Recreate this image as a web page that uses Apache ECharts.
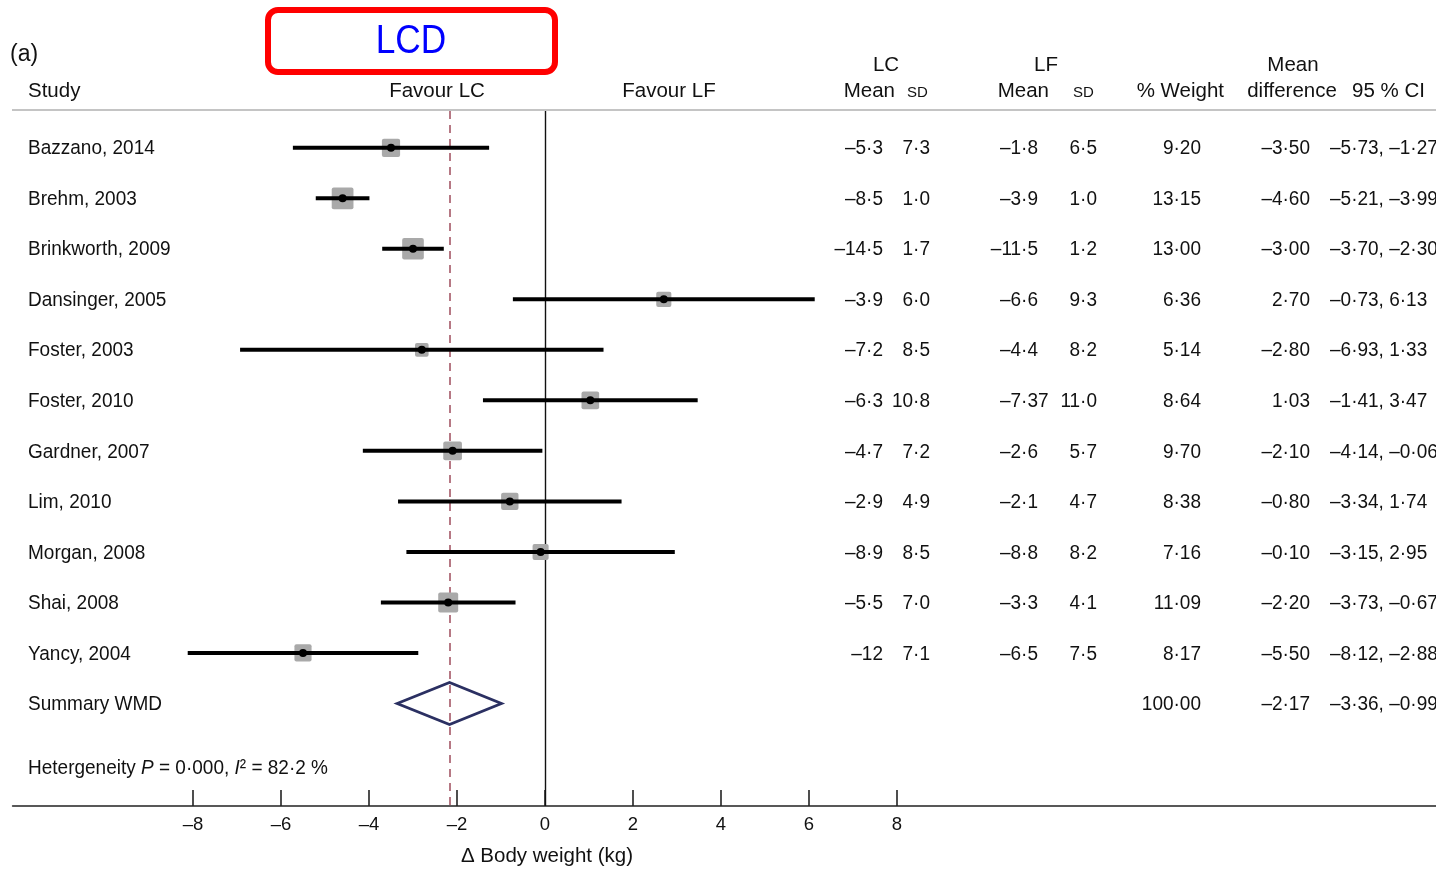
<!DOCTYPE html>
<html><head><meta charset="utf-8">
<script src="https://cdn.jsdelivr.net/npm/echarts@6/dist/echarts.min.js"></script>
<style>html,body{margin:0;padding:0;background:#fff}#c{width:1436px;height:872px}</style>
</head><body><div id="c"></div>
<script>
// ---- data ----
const studies = ['Bazzano, 2014','Brehm, 2003','Brinkworth, 2009','Dansinger, 2005','Foster, 2003','Foster, 2010','Gardner, 2007','Lim, 2010','Morgan, 2008','Shai, 2008','Yancy, 2004'];
const lcMean = ['–5·3','–8·5','–14·5','–3·9','–7·2','–6·3','–4·7','–2·9','–8·9','–5·5','–12'];
const lcSD   = ['7·3','1·0','1·7','6·0','8·5','10·8','7·2','4·9','8·5','7·0','7·1'];
const lfMean = ['–1·8','–3·9','–11·5','–6·6','–4·4','–7·37','–2·6','–2·1','–8·8','–3·3','–6·5'];
const lfSD   = ['6·5','1·0','1·2','9·3','8·2','11·0','5·7','4·7','8·2','4·1','7·5'];
const weight = [9.20,13.15,13.00,6.36,5.14,8.64,9.70,8.38,7.16,11.09,8.17];
const meanDiff = [-3.50,-4.60,-3.00,2.70,-2.80,1.03,-2.10,-0.80,-0.10,-2.20,-5.50];
const ciLow  = [-5.73,-5.21,-3.70,-0.73,-6.93,-1.41,-4.14,-3.34,-3.15,-3.73,-8.12];
const ciHigh = [-1.27,-3.99,-2.30,6.13,1.33,3.47,-0.06,1.74,2.95,-0.67,-2.88];
const summaryLabel = 'Summary WMD';
const summaryWeight = 100.00;
const summaryMD = -2.17;
const summaryLow = -3.36;
const summaryHigh = -0.99;
const hetP = '0·000';
const hetI2 = '82·2';
const xTicks = [-8,-6,-4,-2,0,2,4,6,8];

// ---- helpers ----
const FF = '"Liberation Sans", Arial, Helvetica, sans-serif';
const BODY = 20.5;     // font size of table body text
const SX = 0.927;      // horizontal squeeze of body text
function fmt(v, d) {
  return (v < 0 ? '–' : '') + Math.abs(v).toFixed(d).replace('.', '·');
}
const cvs = document.createElement('canvas').getContext('2d');
function measure(t, size) { cvs.font = size + 'px ' + FF; return cvs.measureText(t).width; }

const cols = [
  {key:'lcMean', right:883, dec:1},
  {key:'lcSD', right:930, dec:1},
  {key:'lfMean', right:1038, dec:1},
  {key:'lfSD', right:1097, dec:1},
  {key:'weight', right:1201, dec:2},
  {key:'md', right:1310, dec:2}
];
const CI_X = 1330;
const NAME_X = 28;
const DY = 1;

const rows = studies.map((s, i) => ({
  name: s, lcMean: lcMean[i], lcSD: lcSD[i], lfMean: lfMean[i], lfSD: lfSD[i],
  weight: fmt(weight[i], 2), md: fmt(meanDiff[i], 2),
  ci: fmt(ciLow[i], 2) + ', ' + fmt(ciHigh[i], 2)
}));
rows.push({name: summaryLabel, weight: fmt(summaryWeight, 2), md: fmt(summaryMD, 2),
  ci: fmt(summaryLow, 2) + ', ' + fmt(summaryHigh, 2)});

function txt(x, y, text, align) {
  return {type:'text', x: x, y: y + DY, scaleX: SX, style: {x: 0, y: 0, text: text, fill: '#111',
    font: BODY + 'px ' + FF, align: align, verticalAlign: 'middle'}};
}
function decText(col, t, y) {
  const k = t.indexOf('·');
  if (k < 0) return [txt(col.right, y, t, 'right')];
  const xDec = col.right - SX * measure('·' + '0'.repeat(col.dec), BODY);
  return [txt(xDec, y, t.slice(0, k), 'right'), txt(xDec, y, t.slice(k), 'left')];
}
function head(x, y, text, align, size) {
  return {type: 'text', style: {x: x, y: y, text: text, fill: '#111', font: (size || 20.5) + 'px ' + FF,
    align: align, verticalAlign: 'middle'}};
}

const chart = echarts.init(document.getElementById('c'), null, {renderer:'canvas'});

const option = {
  animation: false,
  backgroundColor: '#fff',
  grid: {left: 12.6, right: 0, top: 111, bottom: 62},
  xAxis: {
    type: 'value', min: -12.1, max: 20.25,
    splitLine: {show: false},
    axisLine: {show: true, onZero: false, lineStyle: {color: '#222', width: 1.6}},
    axisTick: {show: true, inside: true, length: 16, customValues: xTicks, lineStyle: {color: '#222', width: 1.6}},
    axisLabel: {show: true, customValues: xTicks, margin: 9, color: '#111', fontSize: 18.5, fontFamily: FF,
      formatter: v => fmt(v, 0)},
    name: 'Δ Body weight (kg)', nameLocation: 'middle', nameGap: 40,
    nameTextStyle: {fontSize: 20.5, fontFamily: FF, color: '#111',
      padding: [0, 0, 0, 2 * (547 - (12.6 + 1423.4 / 2))]}
  },
  yAxis: {type: 'value', min: -0.728, max: 13.03, inverse: true, show: false},
  series: [
    {
      type: 'scatter', data: [], silent: true,
      markLine: {
        symbol: 'none', silent: true, label: {show: false},
        data: [
          {xAxis: 0, lineStyle: {color: '#111', width: 1.4, type: 'solid'}},
          {xAxis: summaryMD, lineStyle: {color: '#9e4c5c', width: 1.5, type: [8, 6]}}
        ]
      },
      z: 1
    },
    {
      type: 'custom', z: 5,
      data: studies.map((s, i) => [meanDiff[i], i, ciLow[i], ciHigh[i], weight[i]]),
      encode: {x: [0, 2, 3], y: 1},
      renderItem: function (params, api) {
        const row = api.value(1);
        const c = api.coord([api.value(0), row]);
        const l = api.coord([api.value(2), row]);
        const h = api.coord([api.value(3), row]);
        const s = 6 * Math.sqrt(api.value(4));
        return {type: 'group', children: [
          {type: 'rect', shape: {x: c[0] - s / 2, y: c[1] - s / 2, width: s, height: s, r: 2},
            style: {fill: '#a9a9a9'}},
          {type: 'line', shape: {x1: l[0], y1: l[1], x2: h[0], y2: h[1]},
            style: {stroke: '#000', lineWidth: 4}},
          {type: 'circle', shape: {cx: c[0], cy: c[1], r: 4}, style: {fill: '#000'}}
        ]};
      }
    },
    {
      type: 'custom', z: 5,
      data: [[summaryMD, studies.length, summaryLow, summaryHigh]],
      encode: {x: [0, 2, 3], y: 1},
      renderItem: function (params, api) {
        const row = api.value(1);
        const c = api.coord([api.value(0), row]);
        const l = api.coord([api.value(2), row]);
        const h = api.coord([api.value(3), row]);
        const hh = 21;
        return {type: 'polygon', shape: {points: [[l[0], l[1]], [c[0], c[1] - hh], [h[0], h[1]], [c[0], c[1] + hh]]},
          style: {fill: 'none', stroke: '#2b3062', lineWidth: 2.8, lineJoin: 'miter'}};
      }
    },
    {
      type: 'custom', z: 6,
      data: rows.map((r, i) => [0, i]),
      encode: {x: 0, y: 1},
      renderItem: function (params, api) {
        const r = rows[params.dataIndex];
        const y = api.coord([0, api.value(1)])[1];
        let children = [txt(NAME_X, y, r.name, 'left')];
        cols.forEach(col => { if (r[col.key]) children = children.concat(decText(col, r[col.key], y)); });
        children.push(txt(CI_X, y, r.ci, 'left'));
        return {type: 'group', children: children};
      }
    }
  ],
  graphic: [
    {type: 'line', shape: {x1: 12, y1: 110, x2: 1436, y2: 110}, style: {stroke: '#c4c4c4', lineWidth: 2}},
    {type: 'rect', shape: {x: 268, y: 10, width: 287, height: 62, r: 10},
      style: {fill: 'none', stroke: '#ff0000', lineWidth: 6}},
    {type: 'text', x: 411, y: 42, scaleX: 0.86,
      style: {x: 0, y: 0, text: 'LCD', fill: '#0000ff', font: '41px "Liberation Sans", sans-serif',
        align: 'center', verticalAlign: 'middle'}},
    head(10, 55, '(a)', 'left', 23),
    head(28, 91, 'Study', 'left'),
    head(437, 91, 'Favour LC', 'center'),
    head(669, 91, 'Favour LF', 'center'),
    head(886, 65, 'LC', 'center'),
    head(895, 91, 'Mean', 'right'),
    head(907, 93, 'SD', 'left', 15),
    head(1046, 65, 'LF', 'center'),
    head(1049, 91, 'Mean', 'right'),
    head(1073, 93, 'SD', 'left', 15),
    head(1224, 91, '% Weight', 'right'),
    head(1293, 65, 'Mean', 'center'),
    head(1292, 91, 'difference', 'center'),
    head(1425, 91, '95 % CI', 'right'),
    {type: 'text', x: 28, y: 768, scaleX: SX, style: {x: 0, y: 0, fill: '#111', align: 'left', verticalAlign: 'middle',
      text: 'Hetergeneity {i|P} = ' + hetP + ', {i|I}² = ' + hetI2 + ' %',
      font: BODY + 'px ' + FF,
      rich: {i: {fontStyle: 'italic', fontSize: BODY, fontFamily: FF, fill: '#111'}}}}
  ]
};
chart.setOption(option);
</script>
</body></html>
